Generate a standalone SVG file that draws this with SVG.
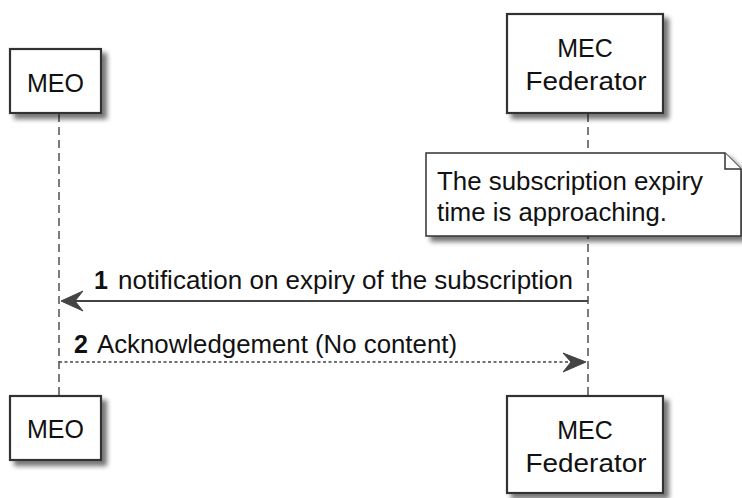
<svg xmlns="http://www.w3.org/2000/svg" width="742" height="498" viewBox="0 0 742 498">
<style>
text{font-family:"Liberation Sans",Arial,sans-serif;fill:#111;font-size:25px}
.box{fill:#fff;stroke:#333;stroke-width:2.2}
.life{stroke:#444;stroke-width:1.4;stroke-dasharray:8,5;fill:none}
.msg{stroke:#444;stroke-width:2;fill:none}
.dash{stroke:#444;stroke-width:1.5;stroke-dasharray:3,2.5;fill:none}
.head{fill:#444;stroke:#444;stroke-width:1;stroke-linejoin:miter}
.note{fill:#fff;stroke:#333;stroke-width:1.5}
.num{font-weight:bold}
</style>
<defs>
<filter id="sh" x="-10%" y="-10%" width="130%" height="130%">
<feGaussianBlur in="SourceAlpha" stdDeviation="2.5"/>
<feOffset dx="5" dy="5" result="b"/>
<feComponentTransfer><feFuncA type="linear" slope="0.55"/></feComponentTransfer>
<feMerge><feMergeNode/><feMergeNode in="SourceGraphic"/></feMerge>
</filter>
</defs>
<g id="lifelines">
<line class="life" x1="59" y1="114" x2="59" y2="396"/>
<line class="life" x1="588" y1="114" x2="588" y2="396"/>
</g>
<g id="MEO_top">
<rect class="box" x="10" y="49" width="91" height="64" filter="url(#sh)"/>
<text x="55.5" y="92" text-anchor="middle">MEO</text>
</g>
<g id="MECF_top">
<rect class="box" x="507" y="14" width="156" height="99" filter="url(#sh)"/>
<text x="585" y="57" text-anchor="middle">MEC</text>
<text x="586" y="90" text-anchor="middle" textLength="121" lengthAdjust="spacingAndGlyphs">Federator</text>
</g>
<g id="note">
<path class="note" d="M426,153 H725 L741,169 V236 H426 Z" filter="url(#sh)"/>
<path class="note" d="M725,153 V169 H741" fill="none"/>
<text x="437" y="190" textLength="266" lengthAdjust="spacingAndGlyphs">The subscription expiry</text>
<text x="437" y="221" textLength="230" lengthAdjust="spacingAndGlyphs">time is approaching.</text>
</g>
<g id="connectors">
<g id="m1">
<line class="msg" x1="64" y1="301" x2="588" y2="301"/>
<polygon class="head" points="61,301 83,291 75,301 83,311"/>
<text class="num" x="94" y="289">1</text>
<text x="118" y="289" textLength="455" lengthAdjust="spacingAndGlyphs">notification on expiry of the subscription</text>
</g>
<g id="m2">
<line class="dash" x1="59" y1="362" x2="580" y2="362"/>
<polygon class="head" points="586,362 563,353 571,362 563,372"/>
<text class="num" x="74" y="353">2</text>
<text x="97" y="353" textLength="360" lengthAdjust="spacingAndGlyphs">Acknowledgement (No content)</text>
</g>
</g>
<g id="MEO_bottom">
<rect class="box" x="10" y="396" width="91" height="64" filter="url(#sh)"/>
<text x="55.5" y="438" text-anchor="middle">MEO</text>
</g>
<g id="MECF_bottom">
<rect class="box" x="507" y="396" width="156" height="97" filter="url(#sh)"/>
<text x="585" y="439" text-anchor="middle">MEC</text>
<text x="586" y="472" text-anchor="middle" textLength="121" lengthAdjust="spacingAndGlyphs">Federator</text>
</g>
</svg>
